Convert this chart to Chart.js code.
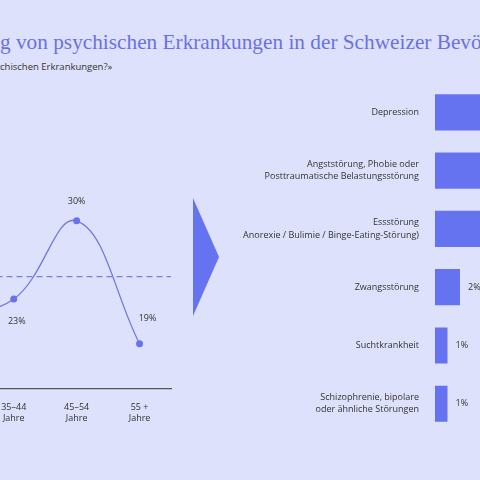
<!DOCTYPE html>
<html><head><meta charset="utf-8">
<script src="https://cdn.jsdelivr.net/npm/chart.js@4/dist/chart.umd.min.js"></script>
<style>
body{margin:0;width:480px;height:480px;overflow:hidden;background:#dee1fb;position:relative;font-family:"Open Sans",sans-serif}
#title,#sub{position:absolute;white-space:nowrap;margin:0}
#title{font-family:"Liberation Serif",serif;color:#6a72e2;font-weight:normal;top:30px}
#sub{font-size:9.5px;color:#333;top:60px}
#lineWrap{position:absolute;left:-150px;top:155px;width:325px;height:275px}
#barWrap{position:absolute;left:240px;top:63px;width:500px;height:384px}
#arrow{position:absolute;left:193px;top:198px;width:26px;height:118px;background:#6673f0;clip-path:polygon(0 0,100% 50%,0 100%)}
</style></head><body>
<h1 id="title">Verbreitung von psychischen Erkrankungen in der Schweizer Bevölkerung</h1>
<p id="sub">«Leiden Sie an einer oder mehreren psychischen Erkrankungen?»</p>
<div id="lineWrap"><canvas id="lineChart"></canvas></div>
<div id="arrow"></div>
<div id="barWrap"><canvas id="barChart"></canvas></div>
<script>
const ageGroups = [["15–24","Jahre"],["25–34","Jahre"],["35–44","Jahre"],["45–54","Jahre"],["55 +","Jahre"]];
const ageValues = [24, 22, 23, 30, 19];
const averageValue = 25;
const illnesses = ["Depression",["Angststörung, Phobie oder","Posttraumatische Belastungsstörung"],["Essstörung","(z. B. Anorexie / Bulimie / Binge-Eating-Störung)"],"Zwangsstörung","Suchtkrankheit",["Schizophrenie, bipolare","oder ähnliche Störungen"]];
const illnessValues = [12, 9, 6, 2, 1, 1];

const blue = "#6673f0";
const ink = "#333";

// place title/subtitle so the visible part starts at the left edge
function offsetText(el, hidden) {
  const c = document.createElement("canvas").getContext("2d");
  c.font = getComputedStyle(el).font;
  el.style.left = -c.measureText(hidden).width + "px";
}
const t = document.getElementById("title");
const m = document.createElement("canvas").getContext("2d");
m.font = '100px "Liberation Serif"';
t.style.fontSize = (100 * 482 / m.measureText("g von psychischen Erkrankungen in der Schweizer Bevö").width) + "px";
offsetText(t, "Verbreitun");
offsetText(document.getElementById("sub"), "«Leiden Sie an einer oder mehreren psy");

const lineLabels = {
  id: "lineLabels",
  afterDatasetsDraw(chart) {
    const {ctx, chartArea, scales: {y}} = chart;
    const yy = y.getPixelForValue(averageValue);
    ctx.save();
    ctx.strokeStyle = "#7a80d8";
    ctx.lineWidth = 1.3;
    ctx.setLineDash([6, 4]);
    ctx.beginPath(); ctx.moveTo(chartArea.left, yy); ctx.lineTo(chartArea.right, yy); ctx.stroke();
    ctx.setLineDash([]);
    ctx.font = '9px "Open Sans"';
    ctx.fillStyle = ink;
    ctx.textAlign = "center";
    chart.getDatasetMeta(0).data.forEach((p, i) => {
      const prev = ageValues[i - 1], next = ageValues[i + 1];
      const last = next === undefined;
      const peak = (prev === undefined || ageValues[i] >= prev) && (last || ageValues[i] >= next);
      if (last) ctx.fillText(ageValues[i] + "%", p.x + 8, p.y - 23);
      else ctx.fillText(ageValues[i] + "%", p.x + (peak ? 0 : 3), peak ? p.y - 17 : p.y + 25);
    });
    ctx.restore();
  }
};

new Chart(document.getElementById("lineChart"), {
  type: "line",
  data: { labels: ageGroups, datasets: [{ data: ageValues, borderColor: "#7078de", borderWidth: 1.3, tension: 0.4,
    pointRadius: 3.5, pointBackgroundColor: blue, pointBorderWidth: 0 }] },
  options: {
    responsive: true, maintainAspectRatio: false, animation: false,
    layout: { padding: { left: 6.5, right: 3.5, top: 10 } },
    plugins: { legend: { display: false }, tooltip: { enabled: false } },
    scales: {
      x: { offset: true, grid: { display: false }, border: { color: "#555", width: 1.2 },
        ticks: { color: ink, font: { size: 9, family: "Open Sans" }, padding: 6 } },
      y: { display: false, min: 15, max: 35 }
    }
  },
  plugins: [lineLabels]
});

const barLabels = {
  id: "barLabels",
  afterDatasetsDraw(chart) {
    const {ctx} = chart;
    ctx.save();
    ctx.font = '9px "Open Sans"';
    ctx.fillStyle = ink;
    ctx.textBaseline = "middle";
    chart.getDatasetMeta(0).data.forEach((b, i) => {
      ctx.fillText(illnessValues[i] + "%", b.x + 8, b.y);
    });
    ctx.restore();
  }
};

new Chart(document.getElementById("barChart"), {
  type: "bar",
  data: { labels: illnesses, datasets: [{ data: illnessValues, backgroundColor: blue, barPercentage: 36 / 58, categoryPercentage: 1 }] },
  options: {
    indexAxis: "y", responsive: true, maintainAspectRatio: false, animation: false,
    layout: { padding: 0 },
    plugins: { legend: { display: false }, tooltip: { enabled: false } },
    scales: {
      x: { display: false, min: 0, max: 24.4 },
      y: { grid: { display: false }, border: { display: false },
        afterFit(s) { s.width = 195; },
        ticks: { color: ink, font: { size: 9, family: "Open Sans", lineHeight: 1.35 }, padding: 8 } }
    }
  },
  plugins: [barLabels]
});
</script>
</body></html>
